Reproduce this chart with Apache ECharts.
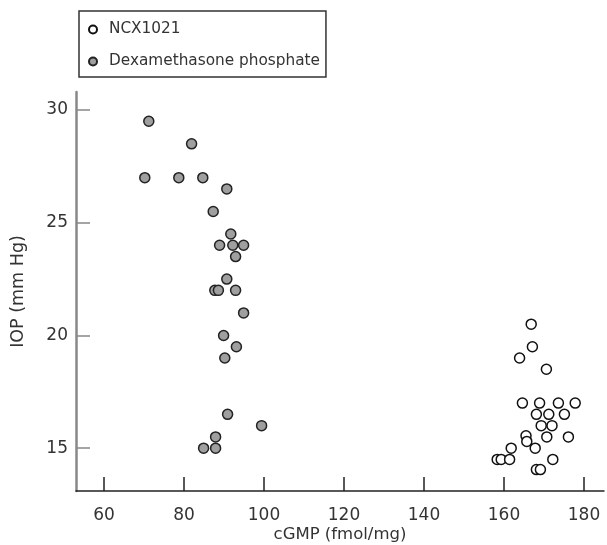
<!DOCTYPE html>
<html>
<head>
<meta charset="utf-8">
<script src="https://cdn.jsdelivr.net/npm/echarts@6/dist/echarts.min.js"></script>
<style>html,body{margin:0;padding:0;background:#fff}#c{width:607px;height:545px}</style>
</head>
<body>
<div id="c"></div>
<script>
const seriesNames = ['NCX1021', 'Dexamethasone phosphate'];
const ncxData = [
  [166.8,20.5],[167.1,19.5],[163.9,19.0],[170.6,18.5],
  [164.6,17.0],[168.9,17.0],[173.6,17.0],[177.8,17.0],
  [168.1,16.5],[171.2,16.5],[175.1,16.5],
  [169.3,16.0],[172.0,16.0],
  [165.5,15.55],[165.7,15.3],[170.7,15.5],[176.1,15.5],
  [161.8,15.0],[167.8,15.0],
  [158.3,14.5],[159.3,14.5],[161.4,14.5],[172.2,14.5],
  [168.1,14.05],[169.1,14.05]
];
const dexData = [
  [71.2,29.5],[81.9,28.5],[70.2,27.0],[78.7,27.0],[84.7,27.0],
  [90.7,26.5],[87.3,25.5],[91.7,24.5],[88.9,24.0],[92.2,24.0],[94.9,24.0],
  [92.9,23.5],[90.7,22.5],[87.7,22.0],[88.6,22.0],[92.9,22.0],
  [94.9,21.0],[89.9,20.0],[93.1,19.5],[90.2,19.0],
  [90.9,16.5],[99.4,16.0],[87.9,15.5],[84.9,15.0],[87.9,15.0]
];
const xTicks = [60, 80, 100, 120, 140, 160, 180];
const yTicks = [15, 20, 25, 30];
const xTitle = 'cGMP (fmol/mg)';
const yTitle = 'IOP (mm Hg)';

const FONT = 'DejaVu Sans';
const chart = echarts.init(document.getElementById('c'), null, {renderer: 'canvas'});
chart.setOption({
  animation: false,
  backgroundColor: '#fff',
  textStyle: {fontFamily: FONT},
  grid: {left: 76, right: 3, top: 92, bottom: 54, containLabel: false, outerBoundsMode: 'none'},
  legend: {
    orient: 'vertical',
    left: 79, top: 11,
    padding: [11, 6, 8, 9],
    borderColor: '#333', borderWidth: 1.5,
    backgroundColor: '#fff',
    itemWidth: 22, itemHeight: 8, itemGap: 17,
    textStyle: {fontFamily: FONT, fontSize: 15.3, color: '#333'},
    data: seriesNames.map(n => ({name: n, icon: 'circle'}))
  },
  xAxis: {
    type: 'value', min: 53, max: 185,
    name: xTitle, nameLocation: 'middle', nameGap: 35, nameMoveOverlap: false,
    nameTextStyle: {fontFamily: FONT, fontSize: 16.5, color: '#333'},
    axisLine: {show: true, lineStyle: {color: '#222', width: 1.5}},
    axisTick: {show: true, inside: true, length: 14, customValues: xTicks, lineStyle: {color: '#222', width: 1.5}},
    axisLabel: {customValues: xTicks, margin: 16, fontFamily: FONT, fontSize: 17, color: '#333'},
    splitLine: {show: false}
  },
  yAxis: {
    type: 'value', min: 13.1, max: 30.8,
    name: yTitle, nameLocation: 'middle', nameGap: 49, nameMoveOverlap: false,
    nameTextStyle: {fontFamily: FONT, fontSize: 17.5, color: '#333'},
    axisLine: {show: true, lineStyle: {color: '#888', width: 2.5}},
    axisTick: {show: true, inside: true, length: 14, customValues: yTicks, lineStyle: {color: '#888', width: 1.5}},
    axisLabel: {customValues: yTicks, margin: 8, fontFamily: FONT, fontSize: 17, color: '#333'},
    splitLine: {show: false}
  },
  series: [
    {
      name: seriesNames[0], type: 'scatter', symbol: 'circle', symbolSize: 10,
      itemStyle: {color: '#fff', borderColor: '#111', borderWidth: 1.5, opacity: 1},
      data: ncxData
    },
    {
      name: seriesNames[1], type: 'scatter', symbol: 'circle', symbolSize: 10,
      itemStyle: {color: '#9f9f9f', borderColor: '#222', borderWidth: 1.5, opacity: 1},
      data: dexData
    }
  ]
});
</script>
</body>
</html>
